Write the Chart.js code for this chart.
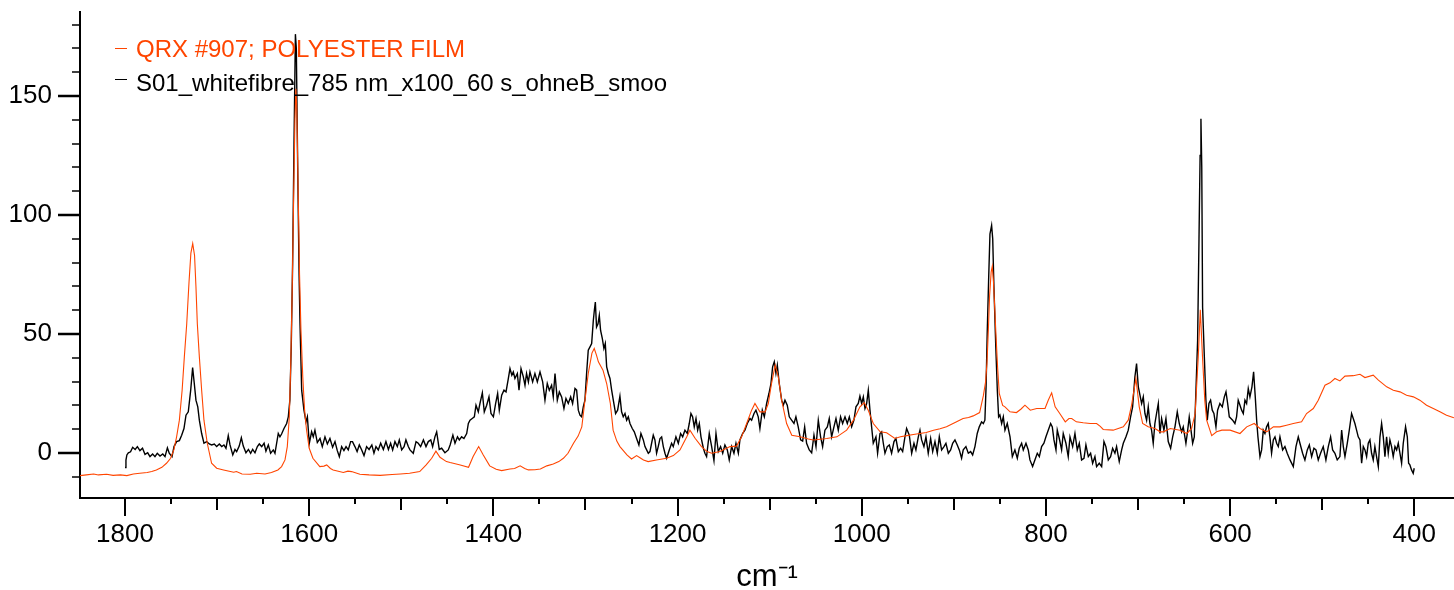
<!DOCTYPE html>
<html>
<head>
<meta charset="utf-8">
<script src="https://cdn.jsdelivr.net/npm/chart.js@4.4.1/dist/chart.umd.min.js"></script>
<style>
html,body{margin:0;padding:0;background:#fff;}
#wrap{width:1454px;height:590px;}
</style>
</head>
<body>
<div id="wrap"><canvas id="c" width="1454" height="590"></canvas></div>
<script>
// ---- Data ----
const qrxLabel = 'QRX #907; POLYESTER FILM';
const fibreLabel = 'S01_whitefibre_785 nm_x100_60 s_ohneB_smoo';

const qrxWavenumber = [1849,1842,1834,1829,1820,1813,1805,1798,1791,1784,1776,1771,1766,1760,1755,1750.5,1747,1744,1741,1738,1735.6,1733,1730.5,1728.5,1726.5,1724.5,1723,1721.5,1719.3,1716.8,1714.3,1710.7,1706,1700.5,1693,1682,1679,1673,1664,1657,1648,1641,1634,1630,1626.3,1623.8,1621.6,1620,1618.5,1617,1615.5,1614.5,1613.5,1612,1610.5,1609,1607,1605,1603,1600,1596,1588.5,1584,1581,1577,1574,1563,1558,1554,1545,1535,1523,1510,1501,1491,1480,1473,1467,1462.4,1458,1451,1447,1436,1427,1422,1416,1411,1404,1397,1391,1382,1377,1371,1366,1362,1355,1349,1342,1335,1329,1324,1319,1313,1308,1304,1301,1297,1293,1290.5,1288,1286,1281,1277,1273,1270,1266,1262.6,1255,1250,1244.5,1240,1237,1232,1223,1212,1204.6,1197.4,1190,1186.6,1181,1174,1168,1163,1154,1143,1136,1130.5,1125,1119.6,1116,1110.6,1105,1101.5,1098,1094,1090.6,1087,1081.6,1076,1067,1058,1052.6,1045,1038,1027,1016.4,1009,1002,997.3,993,987.5,980,973,964,958,951,944,937,930,922,915,908,897,890,884,879,872,868,865.5,864,862.5,861.2,859.5,858.3,857,855.5,854.3,852.5,850.7,847,844.5,839,832,827,822.8,817,810,801,797.5,793.8,790,785,779,775,772,767,759.5,752,745,741,737.8,727,716,710.6,707,702.3,698.7,695,689,681.6,676,672.6,665,654.5,647,641.8,638,634.6,632.4,630,627.5,625.5,620,614.7,609,600,589.3,582,573.8,567.6,560.4,553,546,538.7,531.4,522.4,517,509.7,504.3,497,491.6,486.2,480.8,475.3,466.3,459,453.6,444.6,439,430,422.8,415.6,408.4,401,394,386.7,379.4,372.2,365,357];
const qrxIntensity = [-9.5,-9.2,-8.8,-9.2,-8.9,-9.4,-9.2,-9.5,-8.8,-8.5,-8.2,-7.8,-7.1,-6.0,-4.3,-2.2,1.3,6.8,13.8,26.4,40.4,54.3,72,84,88,83,70,54.3,40.4,26.4,13.8,4.1,-4.3,-6.4,-7.1,-8.1,-7.8,-8.8,-8.9,-8.5,-8.8,-8.2,-7.1,-5.7,-2.9,2.7,15.2,38,68,105,140,153,145,110,75,52,32,18,10,2,-2.2,-5.7,-5.5,-5.0,-6.5,-7.1,-8.2,-7.6,-7.8,-8.9,-9.2,-9.4,-9.0,-8.8,-8.5,-7.8,-5.0,-2.2,0.8,-1.8,-3.6,-4.0,-5.0,-6.0,-1.5,2.7,-0.8,-5.4,-6.8,-7.4,-6.7,-6.5,-5.4,-6.5,-7.1,-7.0,-6.7,-5.4,-4.6,-3.6,-2.2,-0.1,4.1,7.1,11,20.8,33.4,42,43.9,41,38.3,34.8,29.2,20.8,9.6,5,2.7,-0.8,-2.5,-1.1,-2.2,-2.9,-3.6,-2.9,-2.2,-1.1,1.3,6.8,9.6,6.2,2.7,0.6,-0.1,0.6,2.7,2.9,6.8,12.4,18,20.8,17.3,17.3,20.8,29.2,36.9,32,22.2,12.4,7.5,6.8,5.9,5.5,5.8,6.1,6.8,9.6,13.8,19.4,21.2,18,12.4,8.9,8.5,6.1,6.8,7.3,7.8,8.2,8.6,9.6,10.2,11,13.1,14.5,14.9,15.6,17,24,30,38,52,66,76,78.4,72,60,50,36,25,20,19.4,17.3,17,18.5,20.1,18,18.7,18.7,22.2,25.3,19.4,16.6,13.1,14.5,14.5,13.1,12.7,12.4,12.4,11.2,9.9,9.6,11,13.8,20.1,31.3,19.4,12.4,11,10.3,8.9,8.9,10.3,9.6,8.2,10.3,16.6,40.4,60.2,40.4,22,13.8,7.3,8.9,9.6,9.6,8.2,11,12.4,10.3,8.9,11,11,11.7,12.4,13.1,16.6,18.7,22.2,28.5,29.5,31.3,30.3,32.3,32.5,33.1,31.7,32.7,30.6,27.8,26.4,25.7,24.3,23.6,22.2,20.1,18.7,17.3,15.9,14.8];

const fibreWavenumber = [1800,1799,1798,1796.4,1794,1791.7,1789,1786.6,1783.8,1781,1778.3,1775.4,1772.9,1770,1767.5,1765,1762,1759,1756.6,1754,1752,1749,1746.8,1744,1741,1738.5,1736,1733.8,1731.3,1728.7,1726.6,1724.8,1723,1721,1719.3,1716.8,1714.3,1711.4,1708.5,1706,1703,1700.5,1697.6,1695,1692.6,1690.4,1687.9,1686,1683,1680.6,1678.8,1676,1673.7,1671.6,1668.7,1666,1663.6,1661.4,1658.9,1656.3,1654.2,1651.6,1649,1647,1644.4,1641.9,1639,1637.2,1633.6,1631.8,1630,1627.4,1624.5,1622.7,1621,1619.5,1618,1616.5,1615,1614,1612.5,1611,1610,1608.2,1605.7,1603.5,1602,1599.9,1597.4,1595.6,1593.8,1591.2,1588.3,1585.8,1582.9,1580.3,1577.5,1574.6,1572,1569.5,1567.3,1564.8,1562.3,1560,1557.6,1555,1553,1550.4,1548,1545.6,1543,1540.5,1537.7,1535,1532,1529.7,1527.5,1525,1522.4,1519.5,1516.7,1514,1511.6,1509.4,1506.9,1504.3,1502.2,1499.6,1497,1495,1492.4,1490.6,1487,1484,1481.6,1479,1476,1473.2,1470.7,1468,1466,1463.5,1461.6,1458.8,1456.2,1452.6,1449,1447,1444,1441.7,1439,1437,1434.5,1432,1429,1427.2,1425.4,1423,1420.7,1418.9,1416.4,1414.6,1412,1409.9,1407.3,1404.8,1402.6,1400,1397.6,1395.4,1393.6,1391,1388.5,1386.3,1383.8,1382,1380,1378.4,1376.6,1374,1372.2,1370,1367.5,1365.7,1364,1362,1360.3,1357.4,1354.9,1352.3,1349.4,1346.5,1344,1341.5,1339.3,1336.8,1335,1333.1,1330.6,1328.4,1325.9,1323.4,1321.2,1318.7,1316.1,1314,1311.4,1309.6,1307.8,1306,1304.2,1302.4,1300.6,1298.8,1297,1295.1,1293.3,1291.5,1290.4,1289.3,1288,1286.4,1285,1283.6,1281.7,1280,1278.5,1277,1275.2,1273.4,1271.6,1269.8,1267.3,1265.1,1262.6,1260.8,1259,1257.1,1255.3,1253.5,1251.7,1249.2,1247,1244.5,1242,1239.8,1237.2,1235.4,1233.6,1231.8,1230,1228.2,1226.4,1224.6,1222.8,1221,1219.1,1217.3,1215.5,1213.7,1211.9,1209,1206.5,1204.7,1201.8,1199.2,1196.7,1194.5,1192,1189.4,1187.3,1185.5,1183.7,1181.9,1180,1178.2,1176.4,1174.6,1172,1170.3,1168.5,1165.6,1163,1160.5,1158.3,1155.8,1153.3,1151,1148.6,1146,1143.9,1141.3,1138.8,1136.6,1134,1132.3,1129.4,1126.9,1124.3,1121.4,1119.6,1117,1114.9,1112.4,1110.6,1108,1105.8,1103.3,1100.8,1098.6,1096.8,1095,1093.2,1091.7,1089.6,1087,1085.2,1083.4,1080.9,1078.7,1076.2,1073.6,1071.5,1069,1066.4,1064.2,1062,1059.9,1057,1054.4,1051.9,1049.7,1047.2,1044.7,1042.5,1040,1037.4,1035.3,1032.7,1030.2,1028,1025.5,1023,1020.8,1018.2,1015.7,1013.5,1011,1008.5,1006.3,1003.8,1002,1000.1,998.3,996.5,994.7,992.9,991.1,989.3,987.5,984.6,982.8,980.2,978.4,976.6,974.8,972.3,970.1,967.6,965,962.9,960.3,957.8,955.6,953.1,951.3,948.4,945.8,943.3,941.2,938.6,936.8,935,932.5,930.3,927.8,925.2,923,920.5,918,915.8,913.3,910.7,908.6,906,903.5,901.3,898.8,896.3,894.1,891.6,889.8,886.9,884.3,881.8,879.6,877.1,874.6,872.4,869.9,868,866.3,865,863.8,862.3,860.8,859,857.8,856.5,854.5,852.8,851.4,850,848.1,846.3,844.5,842,839,836.5,833.7,831.1,829,826.4,824.6,821.7,819.2,817.4,814.5,812,809.4,807.2,804.7,802.2,800,797.5,794.9,793.1,791.3,789.1,787.7,785.5,783,781.2,778.3,775.8,773.9,771,768.5,766,763.8,761.3,758.7,756.6,754,751.5,749.3,746.8,745,742.1,739.5,737,734.9,732.3,729.8,727.6,725.1,723.3,720.4,717.8,716,713.1,710.6,708.1,705.9,703.4,701.6,699.7,697.9,696.1,694.3,692.5,690.7,688.9,687.1,685.3,683.5,681.7,679.9,678,676.2,674.4,671.9,669.7,667.2,664.6,662.4,659.9,657.4,655.2,652.7,650.9,648,646.5,644.4,642.5,640.7,638.9,637.1,635.3,633.8,632.6,631.7,630.8,629.9,628,626.3,624.8,623,621.2,619.4,617.6,615.4,613.6,611.1,608.5,606.3,604.5,602.7,600.9,599.1,597.3,594.8,593,591.2,589.3,587.5,585.7,583.9,582.1,580.3,578.5,576.3,574.5,572.7,571.2,569.8,567.6,565.8,564,562.2,560.4,558.6,556.8,555,553.1,551.3,549.5,547.7,545.9,543,540.5,538,535,531.4,528.5,526,524.2,521.3,518.8,516.2,514,511.5,509,506.8,504.3,501.8,498.9,496,493.4,490.9,488.7,486.2,483.7,480.8,478.9,477.1,475.3,472.8,470.6,468.1,466.3,464.5,462.7,460.9,459,457.2,455.4,453.6,451.8,450,448.2,446.4,444.6,442.8,441,439.1,437.3,435.5,433.7,431.9,430.1,428.3,426.5,424.7,422.9,421,419.2,417.4,415.6,413.8,412,409.5,407.6,406.2,404.8,403,401.2,400.1];
const fibreIntensity = [-6.1,-3,-0.8,0.1,0.5,2.4,1.5,2.7,1.0,2.0,-0.6,0.1,-1.5,-0.4,-1.5,-0.1,-1.3,-0.4,-1.5,2.2,-0.1,-1.5,2.7,4.8,5.2,7.5,10.3,15.9,17.3,26.4,35.9,29.2,22.2,19.4,13.8,8.2,4.1,4.8,3.8,3.4,3.8,2.7,3.8,2.7,3.4,2.0,7.3,3.4,-0.8,1.5,0.6,2.9,6.4,2.9,0.1,1.5,-0.1,1.5,0.1,2.7,3.8,2.7,4.1,0.8,3.4,-0.1,1.3,-0.1,8.2,6.8,8.0,10.3,12.4,15.2,22.2,45,80,130,176,170,120,75,54.3,26.4,18,13.1,15.2,4.1,8.9,6.8,9.6,4.4,6.1,2.7,6.8,3.8,6.1,2.4,4.8,1.0,-1.5,2.7,1.0,2.7,1.3,4.8,4.8,2.7,0.6,3.4,1.3,-1.1,2.7,1.5,3.4,-0.1,2.7,1.3,4.1,1.5,4.8,1.5,4.1,1.3,4.8,2.7,5.5,1.3,2.7,5.5,2.7,1.3,-0.1,4.8,4.1,2.7,5.5,2.7,4.8,5.5,2.7,6.8,8.9,1.5,2.0,0.1,1.3,3.4,7.5,4.1,6.8,5.5,6.8,6.1,8.2,12.4,13.8,14.5,15.2,20.1,17.3,20.8,25.3,17.3,20.1,23.6,16.6,15.2,20.8,25,18,24.3,26.4,25.7,31.3,35.5,32.7,34.1,31.3,33.4,26.4,35.5,32,28.5,33.4,29.9,34.1,29.9,33.4,29.9,34.1,29.9,22.2,29.2,26.4,28.5,23.6,33.4,22.2,25.7,23.6,18.7,22.9,20.8,23.6,20.8,27.1,26.4,18,15.9,15.2,19.4,22.2,33.4,43.2,44.6,46,55.7,59.9,63.4,52.9,54.3,57.8,51.5,48.1,43.9,46,36.2,33.4,31.3,26.4,22.2,16.6,18,23.9,17.3,15.2,16.6,13.8,15.2,12.4,10.3,8.9,6.1,3.4,8.2,5.5,2.7,1.3,-0.1,0.6,4.1,7.5,5.5,-0.1,2.7,6.1,6.8,2.7,-0.1,-2.2,1.3,4.1,2.7,6.8,4.1,8.2,6.8,9.6,8.2,12.4,16.6,15.2,11,14.5,9.6,12.4,6.8,2.0,-0.1,-1.5,8.2,2.7,-3.2,8.2,0.6,2.7,-0.1,3.4,1.3,-2.9,2.7,-0.1,4.1,-0.1,5.5,8.2,9.6,12.4,14.5,13.8,16.6,18,15.2,10.3,18,15.2,20.8,25,29.2,36.2,38.3,33.4,36.9,29.2,22.2,20.1,22.2,20.1,15.2,13.8,12.4,15.2,11,5.5,5.0,11,4.1,1.3,0.1,7.5,2.7,13.8,6.8,2.7,9.6,11,14.5,6.8,11,14.5,9.6,15.2,12.4,15.2,12.4,15.2,11,13.8,19.4,20.8,23.9,20.8,23.6,18.7,20.8,26.4,18,11,4.1,6.8,-0.1,8.2,8.9,4.1,-0.1,2.7,3.4,-0.1,4.8,6.1,0.6,2.0,0.6,6.8,10.3,7.5,-0.1,4.1,1.3,6.8,9.6,5.5,2.7,6.8,-0.1,6.1,0.6,4.8,-0.1,6.8,1.3,2.7,4.1,-0.1,1.3,4.1,5.5,3.4,1.3,-2.2,1.3,2.7,-0.1,0.6,-0.8,2.7,8.2,11,13.1,12.4,13.8,28,50,72,92,95.6,90,70,45,26.4,15.2,16,12.4,15.2,9.6,12.4,6.8,-1.5,1.3,-2.2,2.0,4.1,1.3,4.1,1.3,-2.9,-5.7,-2.9,-0.1,-1.5,2.7,4.1,6.8,9.6,12.4,11,5.5,1.3,9.6,6.1,1.3,8.2,4.1,-1.5,6.8,2.7,8.2,1.3,4.1,-2.9,-2.2,3.4,-1.5,-0.1,-4.3,-1.5,-5.7,-4.3,-5.7,4.8,2.7,-2.9,-1.5,2.0,-0.1,2.7,-3.6,1.3,4.1,6.8,9.6,15.2,19.4,32,37.6,27.8,24.3,20.8,23.6,16.6,13.8,19.4,12.4,9.6,4.1,12.4,16.6,20.8,8.2,14.5,9.6,14.5,4.8,2.0,6.8,11,17.3,12.4,8.9,11,4.1,8.2,15.2,9.6,4.1,6.8,26.4,47.4,90,125,140.4,120,61.3,40.4,22.2,13.8,20.8,22.2,18,16.6,11,18,20.8,19.4,23.6,25.7,20.8,15.2,14.5,13.8,12.4,15.2,22.2,20.1,18,16.6,22.2,20.8,27.1,23.6,27.8,34.1,23.6,13.8,6.8,-1.5,1.3,9.6,8.2,11,12.4,6.8,-0.1,5.5,6.8,4.1,2.7,6.8,1.3,2.7,-0.1,-2.9,-5.7,2.7,6.8,4.1,-0.1,-2.9,1.3,3.4,-1.5,2.0,1.3,-2.9,-0.1,2.7,-2.9,2.7,6.8,1.3,-0.1,-2.9,-1.5,9.6,2.7,-1.5,4.1,9.6,16.6,14.5,12.4,9.6,6.8,5.5,-4.3,2.7,1.3,-1.5,4.1,5.5,-0.1,-2.9,2.7,-1.5,-5.7,6.8,12.4,6.8,-1.5,6.8,-0.1,5.5,2.7,-1.5,2.7,1.3,4.1,-0.1,-4.3,4.1,11,6.8,-4.3,-5,-7.1,-8.5,-6.4];

const xTickLabels = [1800,1600,1400,1200,1000,800,600,400];
const yTickLabels = [0,50,100,150];
const xAxisTitle = 'cm⁻¹';

// ---- Build point lists from the arrays ----
const toPoints = (xs, ys) => xs.map((x, i) => ({x: x, y: ys[i]}));
const FONT = "'Liberation Sans', Arial, Helvetica, sans-serif";
const ORANGE = '#ff4500';

const minorTicksPlugin = {
  id: 'minorTicks',
  afterDraw(chart) {
    const {ctx, scales: {x, y}, chartArea} = chart;
    ctx.save();
    ctx.strokeStyle = '#000';
    for (let v = 400; v <= 1800; v += 50) {
      const px = Math.round(x.getPixelForValue(v));
      const len = v % 200 === 0 ? 18 : (v % 100 === 0 ? 12 : 6);
      ctx.lineWidth = 2;
      ctx.beginPath();
      ctx.moveTo(px, chartArea.bottom);
      ctx.lineTo(px, chartArea.bottom + len);
      ctx.stroke();
    }
    for (let v = -10; v <= 180; v += 10) {
      const py = Math.round(y.getPixelForValue(v));
      const major = v % 50 === 0;
      ctx.lineWidth = major ? 2.5 : 1.5;
      ctx.beginPath();
      ctx.moveTo(chartArea.left, py);
      ctx.lineTo(chartArea.left - (major ? 22 : 8), py);
      ctx.stroke();
    }
    ctx.restore();
  }
};

const legendPlugin = {
  id: 'insideLegend',
  afterDraw(chart) {
    const {ctx} = chart;
    const rows = [{ds: chart.data.datasets[0], lineY: 48, textY: 57}, {ds: chart.data.datasets[1], lineY: 79, textY: 91}];
    ctx.save();
    ctx.font = '24px ' + FONT;
    ctx.textBaseline = 'alphabetic';
    ctx.textAlign = 'left';
    rows.forEach(r => {
      ctx.strokeStyle = r.ds.borderColor;
      ctx.lineWidth = 1;
      ctx.beginPath();
      ctx.moveTo(115, r.lineY + 0.5);
      ctx.lineTo(127, r.lineY + 0.5);
      ctx.stroke();
      ctx.fillStyle = r.ds.borderColor;
      ctx.fillText(r.ds.label, 136, r.textY);
    });
    ctx.restore();
  }
};

new Chart(document.getElementById('c'), {
  type: 'line',
  data: {
    datasets: [
      {label: qrxLabel, data: toPoints(qrxWavenumber, qrxIntensity), borderColor: ORANGE, borderWidth: 1.1, pointRadius: 0, tension: 0, fill: false},
      {label: fibreLabel, data: toPoints(fibreWavenumber, fibreIntensity), borderColor: '#000000', borderWidth: 1.4, pointRadius: 0, tension: 0, fill: false}
    ]
  },
  options: {
    responsive: false,
    animation: false,
    events: [],
    layout: {padding: {top: 12, left: 0, right: 0, bottom: 0}},
    plugins: {legend: {display: false}, tooltip: {enabled: false}},
    scales: {
      x: {
        type: 'linear', reverse: true, min: 356.9, max: 1848.9,
        afterBuildTicks: s => { s.ticks = xTickLabels.map(v => ({value: v})); },
        afterFit: s => { s.height = 92; s.paddingLeft = 0; s.paddingRight = 0; },
        ticks: {color: '#000', font: {family: FONT, size: 26}, padding: 21, maxRotation: 0, autoSkip: false, callback: v => String(v)},
        grid: {display: false, drawTicks: false, drawOnChartArea: false},
        border: {display: true, color: '#000', width: 2},
        title: {display: true, text: xAxisTitle, color: '#000', font: {family: FONT, size: 31, lineHeight: 0.8}, padding: {top: 0, bottom: 0}}
      },
      y: {
        type: 'linear', min: -18.9, max: 185.3,
        afterBuildTicks: s => { s.ticks = yTickLabels.map(v => ({value: v})); },
        afterFit: s => { s.width = 80; s.paddingTop = 0; s.paddingBottom = 0; },
        ticks: {color: '#000', font: {family: FONT, size: 26}, padding: 28, callback: v => String(v)},
        grid: {display: false, drawTicks: false, drawOnChartArea: false},
        border: {display: true, color: '#000', width: 2}
      }
    }
  },
  plugins: [minorTicksPlugin, legendPlugin]
});
</script>
</body>
</html>
